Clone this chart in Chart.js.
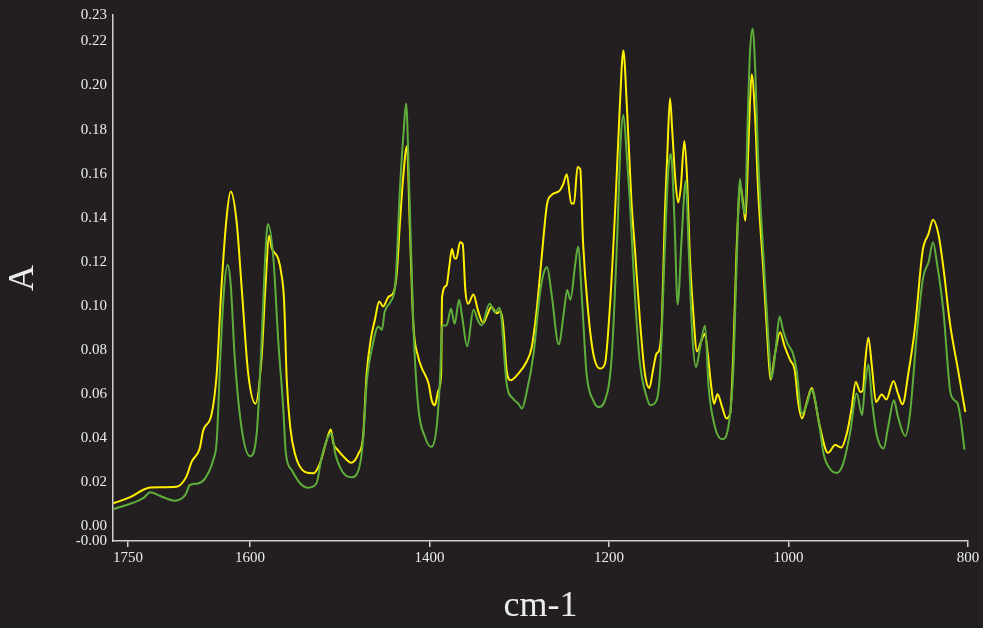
<!DOCTYPE html>
<html>
<head>
<meta charset="utf-8">
<title>Spectrum</title>
<script src="https://cdn.jsdelivr.net/npm/chart.js@4.4.1/dist/chart.umd.min.js"></script>
<style>
  html, body { margin: 0; padding: 0; background: #231f20; }
  #wrap { width: 983px; height: 628px; }
</style>
</head>
<body>
<div id="wrap"><canvas id="spectrumChart" width="983" height="628"></canvas></div>
<script>
// yellow trace
const yellowWn = [1752, 1734, 1711, 1682, 1671, 1665, 1656, 1652, 1643, 1637, 1632, 1626, 1621.5, 1615, 1609, 1602, 1594, 1587, 1583, 1578.5,
  1576, 1568.5, 1565, 1562, 1559, 1555, 1550, 1539, 1529.5, 1522, 1514.5, 1510, 1507, 1502, 1494, 1487, 1479, 1474, 1470, 1465,
  1461, 1456, 1451.5, 1446, 1440, 1436.5, 1433, 1429, 1425, 1422, 1418, 1412.5, 1409, 1401, 1397.5, 1394, 1390, 1387, 1386, 1381,
  1378, 1375, 1372, 1370, 1366, 1363, 1360, 1357, 1351, 1346, 1340, 1336, 1331, 1325, 1321, 1318, 1314, 1309.5, 1301, 1292,
  1286, 1281, 1275, 1269, 1264, 1255, 1251, 1247, 1242, 1239, 1235, 1232, 1229, 1223, 1217.5, 1210, 1204.5, 1199, 1193, 1188,
  1184, 1180, 1175, 1171, 1165.5, 1160, 1155, 1151, 1147, 1144, 1141, 1138, 1135, 1132, 1129.5, 1126, 1123, 1120, 1116, 1113,
  1110, 1106, 1102, 1097, 1093, 1090, 1086, 1083, 1079, 1074, 1069, 1065, 1061.5, 1058, 1055, 1054, 1050, 1048, 1045, 1043,
  1041, 1037, 1034, 1028, 1022.5, 1020, 1015, 1009.5, 1004, 998, 993, 989, 985, 980, 974, 972, 965, 956, 948, 941,
  935, 930, 925, 920, 917, 915, 911, 907, 902.5, 896, 891, 883, 878, 873, 866.5, 859, 850.5, 844, 839, 833,
  827.5, 820, 811, 803];
const yellowAbs = [0.0105, 0.0132, 0.0177, 0.0180, 0.0225, 0.0293, 0.0354, 0.0437, 0.0505, 0.0695, 0.1070, 0.1402, 0.1519, 0.1387, 0.1070, 0.0695, 0.0557, 0.0768, 0.1070, 0.1319,
  0.1266, 0.1214, 0.1146, 0.1025, 0.0663, 0.0446, 0.0331, 0.0248, 0.0241, 0.0286, 0.0391, 0.0440, 0.0376, 0.0346, 0.0309, 0.0289, 0.0331, 0.0406, 0.0693, 0.0859,
  0.0934, 0.1020, 0.0998, 0.1040, 0.1062, 0.1146, 0.1372, 0.1598, 0.1726, 0.1372, 0.0919, 0.0768, 0.0723, 0.0648, 0.0572, 0.0550, 0.0618, 0.0693, 0.1040, 0.1093,
  0.1176, 0.1259, 0.1216, 0.1216, 0.1289, 0.1281, 0.1070, 0.1010, 0.1052, 0.0980, 0.0922, 0.0957, 0.0995, 0.0967, 0.0976, 0.0919, 0.0708, 0.0663, 0.0693, 0.0746,
  0.0814, 0.0965, 0.1221, 0.1462, 0.1503, 0.1523, 0.1553, 0.1598, 0.1465, 0.1465, 0.1631, 0.1621, 0.1296, 0.0965, 0.0784, 0.0716, 0.0738, 0.0995, 0.1447, 0.1900,
  0.2159, 0.1900, 0.1477, 0.1251, 0.0934, 0.0693, 0.0628, 0.0708, 0.0784, 0.0799, 0.0934, 0.1387, 0.1689, 0.1942, 0.1794, 0.1568, 0.1470, 0.1538, 0.1749, 0.1583,
  0.1236, 0.0965, 0.0794, 0.0844, 0.0874, 0.0784, 0.0633, 0.0557, 0.0600, 0.0542, 0.0490, 0.0512, 0.0784, 0.1236, 0.1508, 0.1553, 0.1447, 0.1387, 0.1689, 0.1915,
  0.2051, 0.1839, 0.1538, 0.1161, 0.0784, 0.0666, 0.0784, 0.0881, 0.0814, 0.0753, 0.0708, 0.0557, 0.0490, 0.0557, 0.0628, 0.0603, 0.0452, 0.0334, 0.0369, 0.0358,
  0.0422, 0.0527, 0.0655, 0.0610, 0.0618, 0.0723, 0.0856, 0.0723, 0.0565, 0.0598, 0.0576, 0.0660, 0.0603, 0.0554, 0.0693, 0.0904, 0.1251, 0.1327, 0.1391, 0.1327,
  0.1176, 0.0919, 0.0708, 0.0519];

// green trace
const greenWn = [1752, 1719, 1711, 1700, 1684, 1672, 1667, 1658, 1650, 1641, 1637, 1633, 1629, 1625, 1621.5, 1617, 1609, 1600, 1592.5, 1587,
  1583, 1580, 1574, 1568.5, 1563, 1560, 1553.5, 1544, 1535, 1526, 1520, 1513, 1509, 1505, 1500, 1494, 1487, 1479, 1474, 1470,
  1463, 1457, 1453, 1450, 1443, 1438, 1433, 1429, 1426, 1423, 1418, 1412.5, 1405, 1398, 1392, 1388, 1386, 1381, 1376, 1372,
  1367, 1363.5, 1358, 1351, 1346, 1342, 1333, 1327, 1322, 1320, 1314, 1307, 1301, 1297, 1292, 1284, 1277, 1273, 1269, 1264,
  1256, 1250, 1246.5, 1243, 1238, 1234.5, 1230, 1225, 1217.5, 1212, 1204.5, 1197, 1191, 1187, 1184, 1180, 1177, 1171, 1165.5, 1158,
  1154, 1147, 1143, 1138, 1134, 1131, 1127, 1123.5, 1119, 1114.5, 1111, 1107, 1103, 1099, 1093, 1089, 1082, 1074, 1067, 1061.5,
  1058, 1054, 1051.5, 1048.5, 1045.5, 1043, 1040, 1037, 1034, 1028, 1022.5, 1019, 1014, 1010, 1006, 1001, 995, 991, 985, 980,
  974, 965, 961, 954, 946, 939, 931.5, 924, 918, 915, 911, 907, 902, 894, 889, 882.5, 878, 870, 864.6, 857,
  850, 844, 839, 835, 827.5, 820, 816, 811.5, 808, 804];
const greenAbs = [0.0078, 0.0128, 0.0155, 0.0138, 0.0117, 0.0143, 0.0188, 0.0195, 0.0218, 0.0301, 0.0391, 0.0768, 0.1070, 0.1186, 0.1100, 0.0768, 0.0437, 0.0319, 0.0422, 0.0844,
  0.1221, 0.1372, 0.1221, 0.0844, 0.0542, 0.0331, 0.0256, 0.0195, 0.0176, 0.0195, 0.0316, 0.0406, 0.0422, 0.0331, 0.0271, 0.0233, 0.0223, 0.0256, 0.0391, 0.0648,
  0.0829, 0.0907, 0.0892, 0.0972, 0.1022, 0.1100, 0.1523, 0.1779, 0.1918, 0.1598, 0.0919, 0.0542, 0.0406, 0.0361, 0.0452, 0.0693, 0.0912, 0.0912, 0.0987, 0.0919,
  0.1028, 0.0949, 0.0817, 0.0983, 0.0934, 0.0912, 0.1010, 0.0972, 0.0992, 0.0949, 0.0648, 0.0580, 0.0557, 0.0535, 0.0603, 0.0784, 0.1055, 0.1146, 0.1176, 0.1055,
  0.0826, 0.0980, 0.1073, 0.1028, 0.1176, 0.1269, 0.1025, 0.0693, 0.0572, 0.0542, 0.0572, 0.0768, 0.1296, 0.1749, 0.1867, 0.1673, 0.1492, 0.1040, 0.0740, 0.0587,
  0.0550, 0.0572, 0.0708, 0.1236, 0.1613, 0.1689, 0.1387, 0.1007, 0.1311, 0.1568, 0.1236, 0.0859, 0.0723, 0.0799, 0.0912, 0.0633, 0.0452, 0.0395, 0.0452, 0.0708,
  0.1161, 0.1576, 0.1477, 0.1417, 0.1839, 0.2141, 0.2259, 0.2066, 0.1689, 0.1236, 0.0859, 0.0671, 0.0814, 0.0952, 0.0889, 0.0829, 0.0784, 0.0708, 0.0512, 0.0550,
  0.0620, 0.0440, 0.0331, 0.0263, 0.0243, 0.0286, 0.0422, 0.0603, 0.0505, 0.0633, 0.0735, 0.0572, 0.0422, 0.0354, 0.0452, 0.0572, 0.0497, 0.0410, 0.0512, 0.0874,
  0.1130, 0.1198, 0.1289, 0.1206, 0.0980, 0.0618, 0.0576, 0.0557, 0.0482, 0.0349];

// axis ticks (first x tick sits left of 1750 in the original, label kept as printed)
const xTickValues = [1736, 1600, 1400, 1200, 1000, 800];
const xTickLabels = ['1750', '1600', '1400', '1200', '1000', '800'];
const yTickValues = [-0.0066, 0, 0.02, 0.04, 0.06, 0.08, 0.10, 0.12, 0.14, 0.16, 0.18, 0.20, 0.22, 0.232];

const axisColor = '#cfcfcf';
const textColor = '#ececec';
const serif = "'Liberation Serif', 'DejaVu Serif', serif";

const toPoints = (wn, abs) => wn.map((x, i) => ({ x, y: abs[i] }));

const ctx = document.getElementById('spectrumChart');

new Chart(ctx, {
  type: 'line',
  data: {
    datasets: [
      {
        label: 'green',
        data: toPoints(greenWn, greenAbs),
        borderColor: '#5fae3c',
        borderWidth: 2,
        pointRadius: 0,
        cubicInterpolationMode: 'monotone',
      },
      {
        label: 'yellow',
        data: toPoints(yellowWn, yellowAbs),
        borderColor: '#fff000',
        borderWidth: 2,
        pointRadius: 0,
        cubicInterpolationMode: 'monotone',
      },
    ],
  },
  options: {
    responsive: false,
    animation: false,
    devicePixelRatio: 1,
    layout: { padding: { top: 14, right: 15, left: 0, bottom: 0 } },
    plugins: {
      legend: { display: false },
      tooltip: { enabled: false },
    },
    scales: {
      x: {
        type: 'linear',
        reverse: true,
        min: 800,
        max: 1752.6,
        afterFit: scale => { scale.height = 87; },
        afterBuildTicks: scale => { scale.ticks = xTickValues.map(value => ({ value })); },
        grid: { drawOnChartArea: false, drawTicks: true, tickLength: 6, color: axisColor, lineWidth: 1.5 },
        border: { color: axisColor, width: 1.5 },
        ticks: {
          autoSkip: false,
          maxRotation: 0,
          padding: 2,
          color: textColor,
          font: { family: serif, size: 15 },
          callback: (value, index) => xTickLabels[index],
        },
        title: {
          display: true,
          text: 'cm-1',
          color: textColor,
          font: { family: serif, size: 36 },
          padding: { top: 0, bottom: 0 },
        },
      },
      y: {
        type: 'linear',
        min: -0.0066,
        max: 0.232,
        afterFit: scale => { scale.width = 113; },
        afterBuildTicks: scale => { scale.ticks = yTickValues.map(value => ({ value })); },
        grid: { display: false, drawTicks: false },
        border: { color: axisColor, width: 1.5 },
        ticks: {
          autoSkip: false,
          padding: 6,
          color: textColor,
          font: { family: serif, size: 15 },
          callback: value => (value < 0 ? '-0.00' : value.toFixed(2)),
        },
        title: {
          display: true,
          text: 'A',
          color: textColor,
          font: { family: serif, size: 36 },
          padding: { top: 2, bottom: 0 },
        },
      },
    },
  },
});
</script>
</body>
</html>
